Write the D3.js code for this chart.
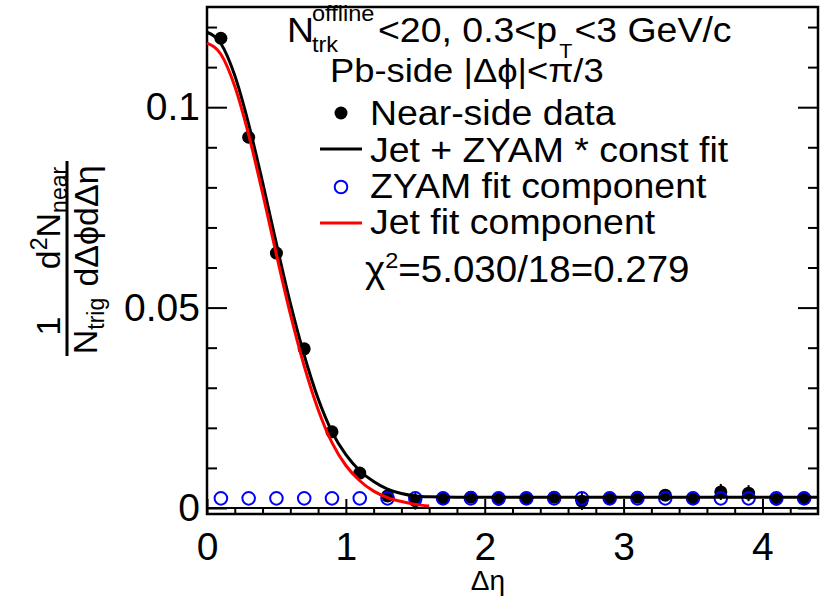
<!DOCTYPE html>
<html>
<head>
<meta charset="utf-8">
<script src="https://cdn.jsdelivr.net/npm/d3@7/dist/d3.min.js"></script>
<style>
  html, body { margin: 0; padding: 0; background: #fff; }
  svg { display: block; font-family: "Liberation Sans", Arial, Helvetica, sans-serif; }
</style>
</head>
<body>
<svg id="chart" width="825" height="597"></svg>
<script>
// Δη bin centres (bin width 0.2)
const binCenters = [0.1, 0.3, 0.5, 0.7, 0.9, 1.1, 1.3, 1.5, 1.7, 1.9, 2.1, 2.3, 2.5, 2.7, 2.9, 3.1, 3.3, 3.5, 3.7, 3.9, 4.1, 4.3];
// near-side per-trigger yield and its statistical error
const nearData = [0.1172, 0.0925, 0.0636, 0.0397, 0.0190, 0.0087, 0.0030, 0.0018, 0.0025, 0.0027, 0.0022, 0.0025, 0.0027, 0.0017, 0.0025, 0.0027, 0.0032, 0.0025, 0.0040, 0.0037, 0.0022, 0.0025];
const nearErr = [0.0010, 0.0009, 0.0008, 0.0008, 0.0007, 0.0007, 0.0008, 0.0022, 0.0008, 0.0008, 0.0008, 0.0008, 0.0008, 0.0022, 0.0008, 0.0008, 0.0009, 0.0008, 0.0020, 0.0020, 0.0008, 0.0008];
// ZYAM fit component per bin
const zyamComp = [0.0024, 0.0024, 0.0024, 0.0024, 0.0024, 0.0024, 0.0024, 0.0024, 0.0024, 0.0024, 0.0024, 0.0024, 0.0024, 0.0024, 0.0024, 0.0024, 0.0024, 0.0024, 0.0024, 0.0024, 0.0024, 0.0024];
// jet fit component, sampled along Δη
const jetX = [0, 0.1, 0.2, 0.3, 0.4, 0.5, 0.6, 0.7, 0.8, 0.9, 1.0, 1.1, 1.2, 1.3, 1.4, 1.5, 1.6];
const jetFit = [0.1160, 0.1132, 0.1052, 0.0931, 0.0786, 0.0632, 0.0484, 0.0354, 0.0246, 0.0163, 0.0106, 0.0068, 0.0042, 0.0026, 0.0016, 0.0009, 0.0005];
// full fit (jet + ZYAM * const), sampled along Δη
const fullX = [0, 0.1, 0.2, 0.3, 0.4, 0.5, 0.6, 0.7, 0.8, 0.9, 1.0, 1.1, 1.2, 1.3, 1.4, 1.5, 1.6, 1.8, 2.0, 2.4, 2.8, 3.2, 3.6, 4.0, 4.4];
const fullFit = [0.1187, 0.1159, 0.1079, 0.0958, 0.0813, 0.0659, 0.0511, 0.0381, 0.0273, 0.0190, 0.0133, 0.0093, 0.0066, 0.0047, 0.0036, 0.0030, 0.0028, 0.0027, 0.0027, 0.0027, 0.0027, 0.0027, 0.0027, 0.0027, 0.0027];
// axis ticks
const xMajor = [0, 1, 2, 3, 4];
const xMinor = [0.2, 0.4, 0.6, 0.8, 1.2, 1.4, 1.6, 1.8, 2.2, 2.4, 2.6, 2.8, 3.2, 3.4, 3.6, 3.8, 4.2];
const yMajor = [0, 0.05, 0.1];
const yMinor = [0.01, 0.02, 0.03, 0.04, 0.06, 0.07, 0.08, 0.09, 0.11, 0.12];

const svg = d3.select("#chart");
const L = 207, R = 818, T = 7, B = 514;
const x = d3.scaleLinear().domain([0, 4.4]).range([L, R]);
const y = d3.scaleLinear().domain([-0.0015, 0.125]).range([B, T]);

const tickFont = 39;

// x axis (ticks pointing into the frame)
const gx = svg.append("g").attr("transform", `translate(0,${B})`);
gx.append("g").call(d3.axisBottom(x).tickValues(xMinor).tickSize(-7).tickSizeOuter(0).tickFormat(""));
gx.append("g").call(d3.axisBottom(x).tickValues(xMajor).tickSize(-15).tickSizeOuter(0).tickPadding(18).tickFormat(d3.format("d")));

// y axis, left and mirrored right
const gy = svg.append("g").attr("transform", `translate(${L},0)`);
gy.append("g").call(d3.axisLeft(y).tickValues(yMinor).tickSize(-10).tickSizeOuter(0).tickFormat(""));
gy.append("g").call(d3.axisLeft(y).tickValues(yMajor).tickSize(-20).tickSizeOuter(0).tickPadding(7)
  .tickFormat(d => d === 0 ? "0" : String(d)));
const gyr = svg.append("g").attr("transform", `translate(${R},0)`);
gyr.append("g").call(d3.axisRight(y).tickValues(yMinor).tickSize(-10).tickSizeOuter(0).tickFormat(""));
gyr.append("g").call(d3.axisRight(y).tickValues(yMajor).tickSize(-20).tickSizeOuter(0).tickFormat(""));
svg.selectAll(".domain").remove();
svg.selectAll(".tick line").attr("stroke", "#000").attr("stroke-width", 2);
svg.selectAll(".tick text").attr("fill", "#000").style("font-size", tickFont + "px")
  .style("font-family", '"Liberation Sans", Arial, sans-serif');

// zero line and frame
svg.append("line").attr("x1", L).attr("x2", R).attr("y1", y(0)).attr("y2", y(0))
  .attr("stroke", "#000").attr("stroke-width", 2);
svg.append("rect").attr("x", L).attr("y", T).attr("width", R - L).attr("height", B - T)
  .attr("fill", "none").attr("stroke", "#000").attr("stroke-width", 2.5);

// data points with error bars
const pts = binCenters.map((c, i) => ({x: c, v: nearData[i], e: nearErr[i], z: zyamComp[i]}));
svg.append("g").selectAll("line").data(pts).join("line")
  .attr("x1", d => x(d.x)).attr("x2", d => x(d.x))
  .attr("y1", d => y(d.v - d.e)).attr("y2", d => y(d.v + d.e))
  .attr("stroke", "#000").attr("stroke-width", 2);
svg.append("g").selectAll("circle").data(pts).join("circle")
  .attr("cx", d => x(d.x)).attr("cy", d => y(d.v)).attr("r", 6.5).attr("fill", "#000");

// ZYAM component (open blue circles)
svg.append("g").selectAll("circle").data(pts).join("circle")
  .attr("cx", d => x(d.x)).attr("cy", d => y(d.z)).attr("r", 6.3)
  .attr("fill", "none").attr("stroke", "#0000ff").attr("stroke-width", 2);

// fit curves
const line = d3.line().x(d => x(d[0])).y(d => y(d[1])).curve(d3.curveMonotoneX);
svg.append("path").datum(fullX.map((v, i) => [v, fullFit[i]])).attr("d", line)
  .attr("fill", "none").attr("stroke", "#000").attr("stroke-width", 3);
svg.append("path").datum(jetX.map((v, i) => [v, jetFit[i]])).attr("d", line)
  .attr("fill", "none").attr("stroke", "#ff0000").attr("stroke-width", 3);

// x axis title
svg.append("text").attr("x", 488).attr("y", 590).attr("text-anchor", "middle")
  .style("font-size", "28px").text("Δη");

// y axis title: 1/N_trig · d²N_near / dΔϕdΔη
const yt = svg.append("g").attr("transform", "translate(67,258) rotate(-90)").style("font-size", "34px");
yt.append("line").attr("x1", -98).attr("x2", 97).attr("y1", 0).attr("y2", 0).attr("stroke", "#000").attr("stroke-width", 3);
yt.append("text").attr("x", -68).attr("y", -7).attr("text-anchor", "middle").text("1");
const nt = yt.append("text").attr("x", -68).attr("y", 30).attr("text-anchor", "middle");
nt.append("tspan").text("N");
nt.append("tspan").attr("dy", 7).style("font-size", "23px").text("trig");
const num = yt.append("text").attr("x", 40).attr("y", -7).attr("text-anchor", "middle");
num.append("tspan").text("d");
num.append("tspan").attr("dy", -13).style("font-size", "23px").text("2");
num.append("tspan").attr("dy", 13).text("N");
num.append("tspan").attr("dy", 7).style("font-size", "23px").text("near");
yt.append("text").attr("x", 32).attr("y", 31).attr("text-anchor", "middle").text("dΔϕdΔη");

// header and legend text: slightly wide lettering
const SX = 1.07;
function wideText(parent, px, py, size) {
  return parent.append("text")
    .attr("transform", `translate(${px},${py}) scale(${SX},1)`)
    .style("font-size", size + "px");
}
const fs = 35, sfs = 22;
const hd = svg.append("g");
wideText(hd, 287, 42, fs).text("N");
wideText(hd, 312, 21, sfs).text("offline");
wideText(hd, 312, 52, sfs).text("trk");
const cut = wideText(hd, 378, 42, fs);
cut.append("tspan").text("<20, 0.3<p");
cut.append("tspan").attr("dx", 2).attr("dy", 16).style("font-size", "20px").text("T");
cut.append("tspan").attr("dx", 2).attr("dy", -16).text("<3 GeV/c");
wideText(hd, 330, 82, 34).text("Pb-side |Δϕ|<π/3");

const lg = svg.append("g");
lg.append("circle").attr("cx", 341).attr("cy", 113).attr("r", 6.5).attr("fill", "#000");
wideText(lg, 370, 125, fs).text("Near-side data");
lg.append("line").attr("x1", 320).attr("x2", 362).attr("y1", 149).attr("y2", 149).attr("stroke", "#000").attr("stroke-width", 3);
wideText(lg, 370, 162, fs).text("Jet + ZYAM * const fit");
lg.append("circle").attr("cx", 341).attr("cy", 187).attr("r", 6.3).attr("fill", "none").attr("stroke", "#0000ff").attr("stroke-width", 2);
wideText(lg, 370, 198, fs).text("ZYAM fit component");
lg.append("line").attr("x1", 320).attr("x2", 362).attr("y1", 223).attr("y2", 223).attr("stroke", "#ff0000").attr("stroke-width", 3);
wideText(lg, 370, 234, fs).text("Jet fit component");
const chi = wideText(lg, 365, 282, 36);
chi.append("tspan").text("χ");
chi.append("tspan").attr("dy", -14).style("font-size", sfs + "px").text("2");
chi.append("tspan").attr("dy", 14).text("=5.030/18=0.279");
</script>
</body>
</html>
